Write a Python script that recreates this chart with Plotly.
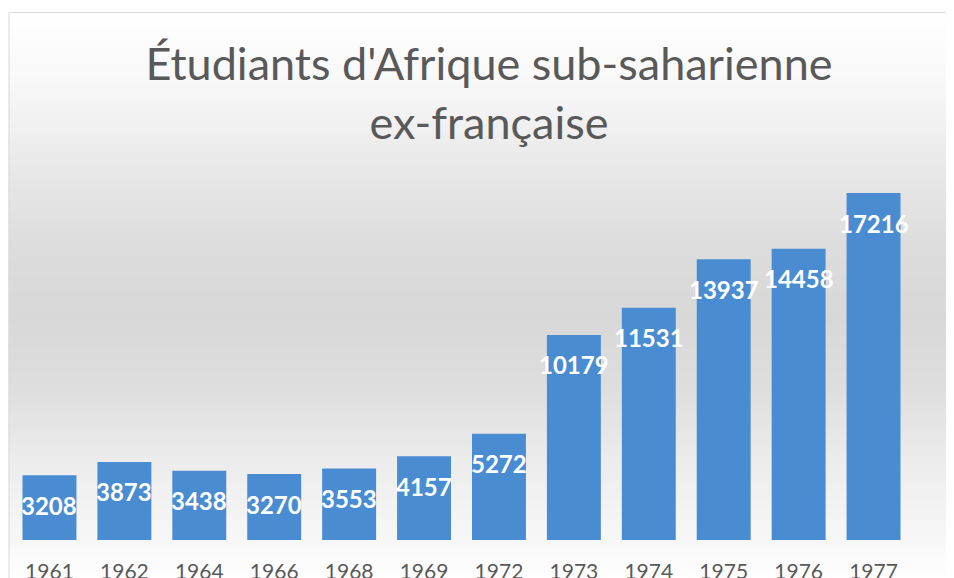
import plotly.graph_objects as go

years = ["1961", "1962", "1964", "1966", "1968", "1969", "1972", "1973", "1974", "1975", "1976", "1977"]
students = [3208, 3873, 3438, 3270, 3553, 4157, 5272, 10179, 11531, 13937, 14458, 17216]
title_text = "Étudiants d'Afrique sub-saharienne<br>ex-française"

OFF = 8  # page body margin
W, H = 954 - OFF, 578 - OFF
L, R, T, B = 3.5, 42.5, 129, 38
PW, PH = W - L - R, H - T - B


def xp(px):
    """page pixel x -> paper coordinate"""
    return (px - OFF - L) / PW


def yp(py):
    """page pixel y -> paper coordinate"""
    return (H - B - (py - OFF)) / PH


# background gradient stops (page pixel y, grey level)
stops = [(12, 255), (90, 247), (170, 232), (250, 220), (320, 216), (390, 222),
         (460, 236), (540, 247), (578, 255)]


def grey_at(py):
    for (y0, g0), (y1, g1) in zip(stops, stops[1:]):
        if y0 <= py <= y1:
            t = (py - y0) / (y1 - y0)
            return g0 + (g1 - g0) * t
    return 255


shapes = []
step = 4
py = 12
while py < 580:
    g = int(round(grey_at(py + step / 2)))
    shapes.append(dict(type="rect", xref="paper", yref="paper",
                       x0=xp(8), x1=xp(960), y0=yp(py + step + 0.5), y1=yp(py),
                       fillcolor=f"rgb({g},{g},{g})", line=dict(width=0), layer="below"))
    py += step
# frame
shapes.append(dict(type="rect", xref="paper", yref="paper",
                   x0=xp(8.5), x1=xp(970), y0=yp(590), y1=yp(12.5),
                   fillcolor="rgba(0,0,0,0)", line=dict(color="#d9d9d9", width=1), layer="below"))

fig = go.Figure(go.Bar(
    x=years, y=students,
    marker=dict(color="#4a8cd1", line=dict(width=0)),
    hoverinfo="x+y",
))

annotations = [dict(x=i, y=v, text=str(v), showarrow=False, yshift=-30,
                    font=dict(family="Lato", size=24, color="white", weight="bold"),
                    xanchor="center", yanchor="middle")
               for i, v in enumerate(students)]

fig.update_layout(
    width=W, height=H,
    margin=dict(l=L, r=R, t=T, b=B, pad=0, autoexpand=False),
    paper_bgcolor="white",
    plot_bgcolor="rgba(0,0,0,0)",
    bargap=0.28,
    showlegend=False,
    title=dict(text=title_text, x=481 / W, xanchor="center", y=1 - 72 / H, yanchor="middle",
               font=dict(family="Lato", size=45, color="#595959")),
    xaxis=dict(type="category", range=[-0.5, len(years) - 0.5], showline=False, showgrid=False,
               zeroline=False, ticks="", automargin=False, ticklabelstandoff=17,
               tickfont=dict(family="Lato", size=21, color="#595959")),
    yaxis=dict(range=[0, 20000], visible=False),
    shapes=shapes,
    annotations=annotations,
)

fig.write_html("out.html")
